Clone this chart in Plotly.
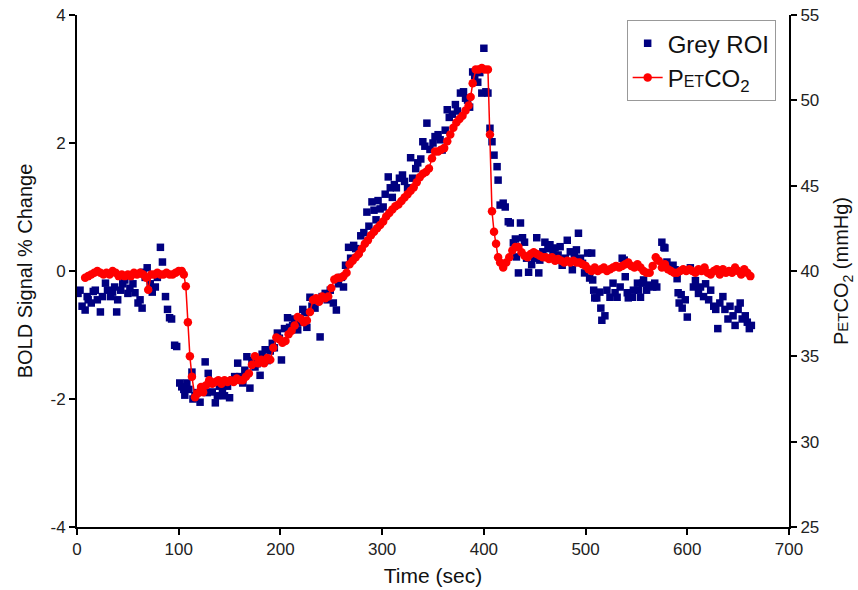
import plotly.graph_objects as go

# ---- Grey ROI BOLD signal (% change) ----
bold_t = [1, 3, 5, 8, 10, 11, 14, 16, 18, 20, 23, 25, 28, 30, 33, 35, 37, 39, 40, 43, 45, 47, 50, 52, 55, 57,
          60, 62, 64, 65, 67, 69, 72, 74, 77, 79, 82, 84, 87, 89, 91, 93, 96, 98,
          101, 103, 105, 106, 108, 110, 113, 114, 116, 118, 121, 123, 126, 128, 129, 131, 133, 136, 138, 140,
          143, 145, 148, 150, 153, 155, 158, 160, 163, 165, 167, 170, 172, 175, 177, 180, 182, 185, 187, 190,
          192, 194, 197, 199, 201, 204, 207, 209, 212, 214, 217, 219, 222, 224, 226, 229, 231, 234, 236, 239,
          241, 244, 246, 249, 252, 255, 257, 260, 262, 264, 267, 269, 272, 274, 277, 279, 282, 285, 287, 290,
          292, 294, 296, 298, 301, 303, 306, 308, 310, 312, 314, 317, 320, 322, 325, 328, 330, 333, 335, 338,
          340, 342, 344, 347, 350, 352, 355, 357, 359, 362, 364, 366, 369, 372, 374, 377, 380, 382, 384, 386,
          389, 391, 394, 396, 398, 400, 402, 404, 406, 408, 410, 413, 414, 416, 419, 421, 424, 426, 429, 431,
          432, 434, 436, 438, 440, 442, 444, 447, 450, 452, 454, 455, 458, 460, 463, 465, 468, 470, 473, 475,
          477, 480, 482, 485, 487, 489, 491, 493, 495, 497, 499, 502, 504, 506, 507, 508, 509, 511, 514, 515,
          516, 519, 521, 524, 527, 529, 531, 534, 536, 538, 539, 541, 542, 546, 547, 551, 552, 554, 556, 557,
          560, 562, 566, 568, 570, 575, 577, 578, 580, 583, 586, 588, 590, 591, 592, 594, 595, 598, 600,
          603, 606, 608, 611, 613, 616, 618, 621, 623, 626, 628, 630, 632, 635, 637, 640, 642, 645, 647, 650,
          652, 654, 657, 659, 661, 663]
bold_v = [-0.35, -0.30, -0.55, -0.61, -0.40, -0.45, -0.50, -0.32, -0.30, -0.45, -0.64, -0.40, -0.19, -0.30, -0.40, -0.33, -0.25, -0.64, -0.45, -0.30, -0.20, -0.14, -0.35, -0.27, -0.20, -0.34,
          -0.50, -0.45, -0.58, -0.02, -0.10, 0.05, -0.20, -0.33, -0.25, -0.10, 0.37, 0.14, -0.40, -0.60, -0.73, -0.75, -1.16, -1.18,
          -1.75, -1.81, -1.85, -1.94, -1.75, -1.85, -1.58, -2.00, -1.95, -1.90, -2.05, -1.85, -1.42, -1.90, -1.60, -1.75, -1.89, -2.06, -1.95, -1.80,
          -1.85, -1.95, -1.80, -1.98, -1.70, -1.65, -1.44, -1.65, -1.75, -1.55, -1.34, -1.83, -1.40, -1.50, -1.45, -1.63, -1.30, -1.23, -1.40, -1.25,
          -1.13, -1.20, -0.97, -1.05, -1.39, -0.90, -0.73, -0.88, -0.85, -0.75, -0.92, -0.80, -0.60, -0.65, -0.88, -0.41, -0.55, -0.58, -0.45, -1.03,
          -0.40, -0.35, -0.45, -0.30, -0.50, -0.61, -0.20, -0.10, -0.25, 0.09, 0.37, 0.20, 0.40, 0.35, 0.30, 0.55, 0.60, 0.92, 0.70, 1.08,
          0.95, 0.80, 1.10, 0.97, 1.00, 1.20, 1.47, 1.30, 1.15, 1.35, 1.30, 1.45, 1.50, 1.40, 1.30, 1.77, 1.45, 1.60, 1.69, 1.75,
          2.02, 1.95, 2.31, 1.90, 2.00, 2.10, 2.13, 2.05, 1.89, 2.20, 2.52, 2.40, 2.45, 2.60, 2.50, 2.78, 2.80, 2.70, 2.67, 2.56,
          3.11, 3.05, 2.95, 3.10, 2.78, 3.48, 2.80, 2.78, 2.23, 2.02, 1.81, 1.63, 1.42, 1.03, 1.06, 1.00, 0.77, 0.75, 0.44, 0.50,
          0.22, -0.03, 0.75, 0.52, 0.45, 0.20, -0.02, 0.10, 0.20, 0.52, -0.03, 0.17, 0.30, 0.45, 0.35, 0.41, 0.30, 0.36, 0.25, 0.38,
          0.09, 0.20, 0.48, 0.30, 0.02, 0.25, 0.33, 0.59, 0.20, 0.12, -0.03, 0.28, -0.11, 0.28, -0.14, -0.30, -0.42, -0.42, -0.33, -0.58,
          -0.77, -0.70, -0.30, -0.41, -0.19, -0.34, -0.41, -0.25, 0.20, 0.17, -0.09, -0.34, -0.42, -0.41, -0.30, -0.19, -0.30, -0.41, -0.19, -0.14,
          -0.30, -0.22, -0.25, -0.19, -0.25, 0.45, 0.37, 0.36, 0.14, 0.06, 0.09, 0.02, -0.12, -0.34, -0.50, -0.37, -0.58, -0.45, -0.72,
          0.05, -0.25, -0.15, -0.35, -0.25, -0.40, -0.20, -0.45, -0.30, -0.55, -0.60, -0.90, -0.50, -0.40, -0.60, -0.75, -0.55, -0.70, -0.85, -0.60,
          -0.50, -0.75, -0.70, -0.80, -0.90, -0.85]

# ---- End-tidal CO2 (mmHg) ----
co2_t = [8, 11, 14, 17, 20, 23, 26, 29, 32, 35, 38, 41, 44, 47, 50, 53, 56, 59, 62, 65, 68, 70, 73, 76, 79, 82, 85, 88, 91, 94,
         97, 100, 103, 105, 107, 109, 111, 113, 116, 118, 120, 122, 124, 127, 130, 133, 136, 139, 142, 145, 148, 151, 154, 157, 160,
         163, 166, 169, 172, 175, 178, 181, 184, 187, 190, 193, 196, 199, 202, 205, 208, 211, 214, 217, 220, 223, 226, 229, 232, 235,
         238, 241, 244, 247, 250, 253, 256, 259, 262, 265, 268, 271, 274, 277, 280, 283, 286, 289, 292, 295, 298, 301, 304, 307, 310,
         313, 316, 319, 322, 325, 328, 331, 334, 337, 340, 343, 346, 349, 352, 355, 358, 361, 364, 367, 370, 373, 376, 379, 382, 385,
         387, 389, 392, 395, 398, 401, 404, 406, 408, 410, 412, 414, 416, 419, 422, 425, 428, 431, 434, 437, 440, 443, 446, 449, 452,
         455, 458, 461, 464, 467, 470, 473, 476, 479, 482, 485, 488, 491, 494, 497, 500, 503, 506, 509, 512, 515, 518, 521, 524, 527,
         530, 533, 536, 539, 542, 545, 548, 551, 554, 557, 560, 563, 566, 569, 572, 575, 578, 581, 584, 587, 590, 593, 596, 599, 602,
         605, 608, 611, 614, 617, 620, 623, 626, 629, 632, 635, 638, 641, 644, 647, 650, 653, 656, 659, 662]
co2_v = [39.6, 39.7, 39.8, 39.9, 40.0, 39.9, 39.8, 39.9, 39.8, 40.0, 39.9, 39.7, 39.8, 39.7, 39.8, 39.7, 39.9, 39.8, 39.9, 39.8, 39.6, 38.9, 39.8, 39.8, 39.9, 39.8, 39.8, 39.9, 39.8, 39.8,
         39.9, 40.0, 40.0, 39.8, 39.1, 37.0, 35.0, 33.8, 32.6, 32.8, 32.9, 33.2, 32.9, 33.3, 33.6, 33.4, 33.5, 33.6, 33.4, 33.6, 33.5, 33.6, 33.5, 33.7, 33.6,
         33.6, 33.8, 34.0, 34.5, 35.0, 34.6, 34.8, 34.6, 34.9, 34.8, 35.5, 36.1, 36.0, 35.8, 35.9, 36.3, 36.5, 36.8, 37.3, 37.2, 37.0, 37.1, 37.6, 38.3, 38.4,
         38.2, 38.5, 38.4, 38.5, 39.0, 39.5, 39.6, 39.6, 39.7, 39.9, 40.4, 40.6, 40.8, 41.0, 41.3, 41.6, 41.8, 42.1, 42.3, 42.5, 42.7, 42.9, 43.2, 43.4, 43.6,
         43.8, 43.9, 44.1, 44.3, 44.5, 44.7, 44.9, 45.2, 45.5, 45.7, 45.8, 46.0, 46.6, 47.0, 47.0, 47.1, 47.2, 47.6, 48.0, 48.4, 48.7, 48.9, 49.1, 49.4, 49.7,
         50.2, 51.0, 51.8, 51.8, 51.9, 51.8, 51.8, 48.0, 43.5, 42.3, 41.6, 40.8, 40.5, 40.2, 40.5, 40.8, 41.2, 41.4, 41.4, 41.1, 40.9, 40.8, 41.0, 41.1, 41.0,
         40.9, 40.8, 40.8, 40.7, 40.8, 40.6, 40.7, 40.6, 40.5, 40.6, 40.5, 40.6, 40.5, 40.5, 40.4, 40.3, 40.1, 40.0, 40.2, 40.0, 40.1, 40.2, 40.0, 40.1, 40.2,
         40.3, 40.2, 40.3, 40.4, 40.5, 40.3, 40.2, 40.4, 40.2, 40.0, 39.9, 39.9, 40.3, 40.8, 40.6, 40.2, 40.4, 40.1, 40.0, 39.9, 39.9, 40.0, 40.1, 40.0, 40.1,
         40.0, 39.9, 40.1, 40.0, 40.2, 39.9, 39.8, 40.0, 40.1, 39.8, 40.1, 39.9, 40.0, 39.9, 40.2, 40.0, 39.8, 40.1, 39.9, 39.7]

x_ticks = [0, 100, 200, 300, 400, 500, 600, 700]
left_ticks = [-4, -2, 0, 2, 4]
left_labels = ["-4", "-2", "0", "2", "4"]
right_ticks = [25, 30, 35, 40, 45, 50, 55]

FONT = "Arial, 'Liberation Sans', sans-serif"

fig = go.Figure()
fig.add_trace(go.Scatter(
    x=bold_t, y=bold_v, mode="markers", name="Grey ROI",
    marker=dict(symbol="square", size=7.5, color="#000080"),
))
fig.add_trace(go.Scatter(
    x=co2_t, y=co2_v, mode="lines+markers", yaxis="y2",
    name="P<span style='font-size:16px'>ET</span>CO<sub>2</sub>",
    line=dict(color="#FF0000", width=1.5),
    marker=dict(symbol="circle", size=8.5, color="#FF0000"),
))

axis_common = dict(
    showline=True, linecolor="black", linewidth=2,
    ticks="outside", ticklen=6, tickwidth=2, tickcolor="black",
    showgrid=False, zeroline=False, automargin=False,
    tickfont=dict(family=FONT, size=17, color="#222"),
)

fig.update_layout(
    width=858, height=590,
    margin=dict(l=77, r=69, t=15, b=63),
    paper_bgcolor="white", plot_bgcolor="white",
    font=dict(family=FONT, color="#111"),
    xaxis=dict(range=[0, 700], tickvals=x_ticks, **axis_common,
               title=dict(text="Time (sec)", font=dict(family=FONT, size=21), standoff=10)),
    yaxis=dict(range=[-4, 4], tickvals=left_ticks, ticktext=left_labels, **axis_common,
               title=dict(text="BOLD Signal % Change", font=dict(family=FONT, size=20), standoff=12)),
    yaxis2=dict(range=[25, 55], tickvals=right_ticks, overlaying="y", side="right", **axis_common,
                title=dict(text="P<span style='font-size:15px'>ET</span>CO<sub>2</sub> (mmHg)",
                           font=dict(family=FONT, size=20), standoff=16)),
    # inner half of the crossing tick marks on the right axis
    yaxis3=dict(range=[25, 55], tickvals=right_ticks, overlaying="y", side="right", anchor="x",
                showline=False, showgrid=False, zeroline=False, showticklabels=False,
                ticks="inside", ticklen=6, tickwidth=2, tickcolor="black", automargin=False),
    legend=dict(x=0.772, y=0.99, xanchor="left", yanchor="top",
                bgcolor="white", bordercolor="#999", borderwidth=1,
                font=dict(family=FONT, size=24, color="#111")),
    showlegend=True,
)

fig.write_html("out.html")
